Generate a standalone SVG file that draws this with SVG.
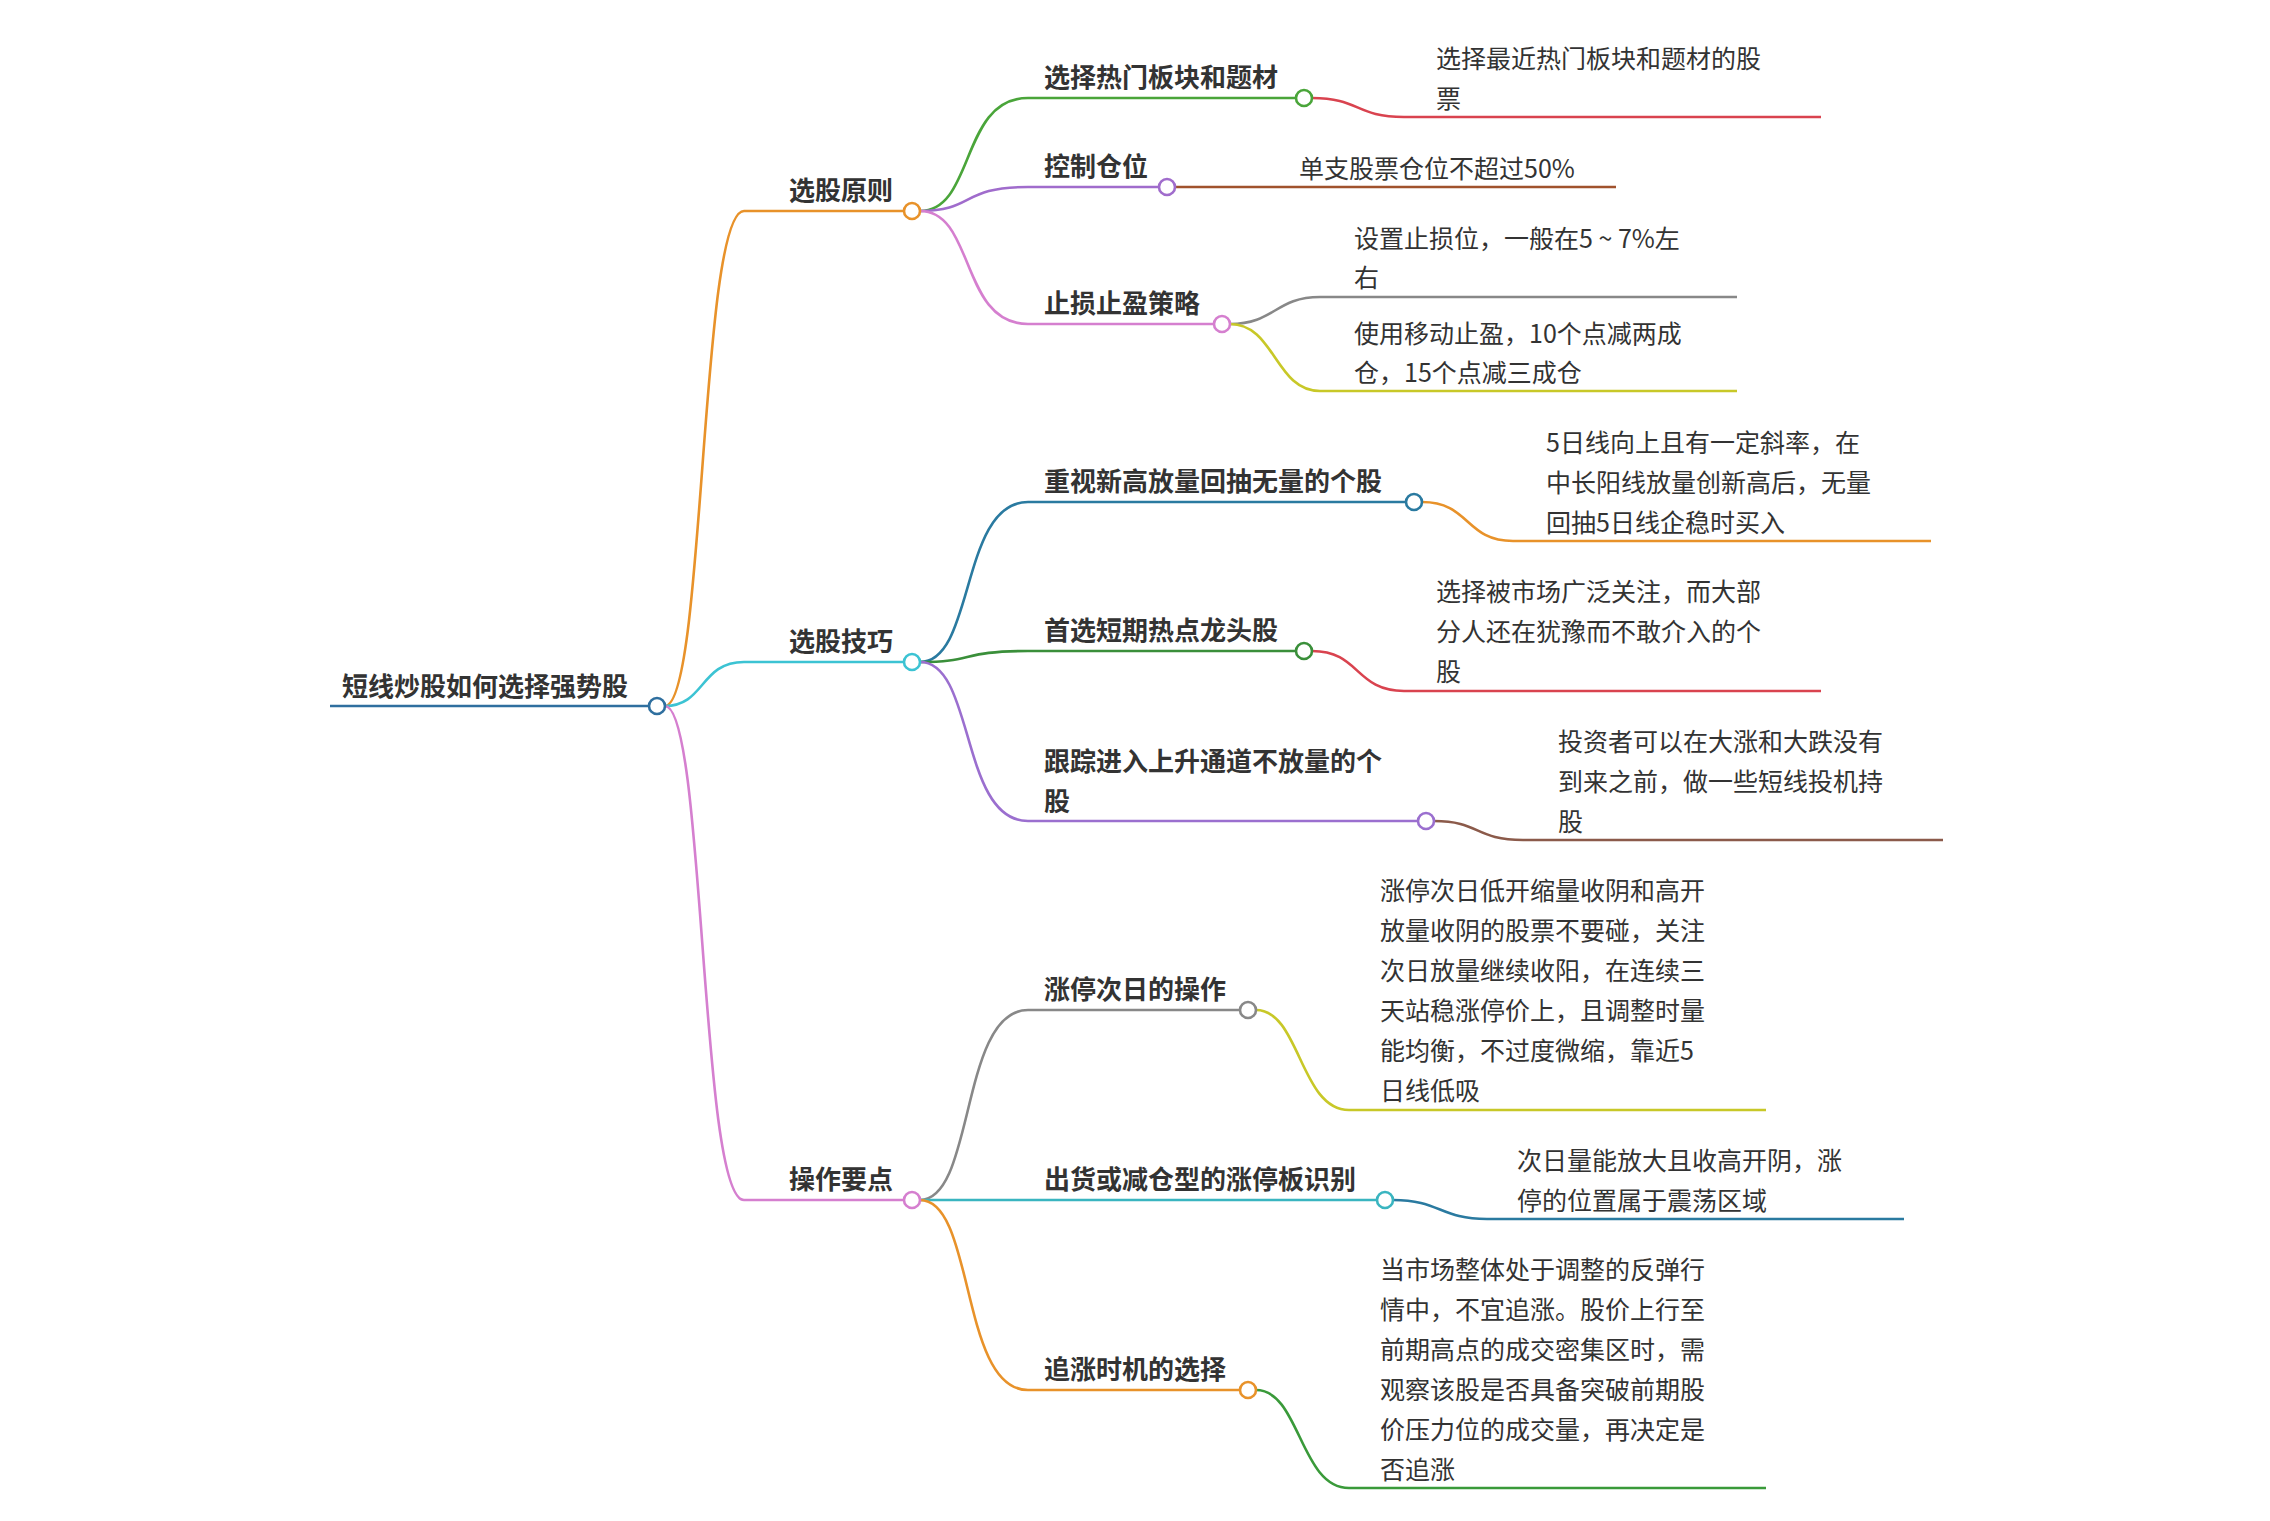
<svg xmlns="http://www.w3.org/2000/svg" width="2270" height="1521" viewBox="0 0 2270 1521">
<style>
.l{fill:none;stroke-width:2.6}
.c{fill:#fff;stroke-width:2.6}
.t{font-family:"Noto Sans CJK SC","Noto Sans",sans-serif;fill:#333}
.b{font-size:26px;font-weight:bold}
.r{font-size:25px}
</style>
<rect width="2270" height="1521" fill="#fff"/>
<g id="connectors">
<path class="l" stroke="#e8922a" d="M665 706 C705 706 700 211 744 211 L912 211"/>
<path class="l" stroke="#3cc3d3" d="M665 706 C705 706 700 662 744 662 L912 662"/>
<path class="l" stroke="#d57fcf" d="M665 706 C705 706 700 1200 744 1200 L912 1200"/>
<path class="l" stroke="#4aa53a" d="M920 211 C975 211 960 98 1028 98 L1304 98"/>
<path class="l" stroke="#a06ccc" d="M920 211 C975 211 960 187 1028 187 L1167 187"/>
<path class="l" stroke="#d57fcf" d="M920 211 C975 211 960 324 1028 324 L1222 324"/>
<path class="l" stroke="#2a7aa0" d="M920 662 C975 662 960 502 1028 502 L1414 502"/>
<path class="l" stroke="#3a8f3a" d="M920 662 C975 662 960 651 1028 651 L1304 651"/>
<path class="l" stroke="#9b6fcf" d="M920 662 C975 662 960 821 1028 821 L1426 821"/>
<path class="l" stroke="#888" d="M920 1200 C975 1200 960 1010 1028 1010 L1248 1010"/>
<path class="l" stroke="#3ab5c0" d="M920 1200 L1385 1200"/>
<path class="l" stroke="#e8922a" d="M920 1200 C975 1200 960 1390 1028 1390 L1248 1390"/>
<path class="l" stroke="#d9434f" d="M1312 98 C1360 98 1355 117 1404 117 L1821 117"/>
<path class="l" stroke="#a0522d" d="M1175 187 L1616 187"/>
<path class="l" stroke="#888" d="M1230 324 C1275 324 1275 297 1320 297 L1737 297"/>
<path class="l" stroke="#c8c828" d="M1230 324 C1275 324 1275 391 1320 391 L1737 391"/>
<path class="l" stroke="#e8922a" d="M1422 502 C1470 502 1465 541 1513 541 L1931 541"/>
<path class="l" stroke="#d9434f" d="M1312 651 C1360 651 1355 691 1404 691 L1821 691"/>
<path class="l" stroke="#8b5a4a" d="M1434 821 C1480 821 1475 840 1523 840 L1943 840"/>
<path class="l" stroke="#c8c828" d="M1256 1010 C1300 1010 1300 1110 1349 1110 L1766 1110"/>
<path class="l" stroke="#2a7aa0" d="M1393 1200 C1440 1200 1440 1219 1487 1219 L1904 1219"/>
<path class="l" stroke="#3a9a3a" d="M1256 1390 C1300 1390 1300 1488 1349 1488 L1766 1488"/>
</g>
<g id="root"><path class="l" stroke="#2f6f9f" d="M330 706 L649 706"/><circle class="c" stroke="#2f6f9f" cx="657" cy="706" r="8"/><text class="t b" x="342" y="696">短线炒股如何选择强势股</text></g>
<g id="n1"><circle class="c" stroke="#e8922a" cx="912" cy="211" r="8"/><text class="t b" x="789" y="200">选股原则</text></g>
<g id="n2"><circle class="c" stroke="#3cc3d3" cx="912" cy="662" r="8"/><text class="t b" x="789" y="651">选股技巧</text></g>
<g id="n3"><circle class="c" stroke="#d57fcf" cx="912" cy="1200" r="8"/><text class="t b" x="789" y="1189">操作要点</text></g>
<g id="n11"><circle class="c" stroke="#4aa53a" cx="1304" cy="98" r="8"/><text class="t b" x="1044" y="87">选择热门板块和题材</text></g>
<g id="n12"><circle class="c" stroke="#a06ccc" cx="1167" cy="187" r="8"/><text class="t b" x="1044" y="176">控制仓位</text></g>
<g id="n13"><circle class="c" stroke="#d57fcf" cx="1222" cy="324" r="8"/><text class="t b" x="1044" y="313">止损止盈策略</text></g>
<g id="n21"><circle class="c" stroke="#2a7aa0" cx="1414" cy="502" r="8"/><text class="t b" x="1044" y="491">重视新高放量回抽无量的个股</text></g>
<g id="n22"><circle class="c" stroke="#3a8f3a" cx="1304" cy="651" r="8"/><text class="t b" x="1044" y="640">首选短期热点龙头股</text></g>
<g id="n23"><circle class="c" stroke="#9b6fcf" cx="1426" cy="821" r="8"/><text class="t b" x="1044" y="771">跟踪进入上升通道不放量的个</text><text class="t b" x="1044" y="811">股</text></g>
<g id="n31"><circle class="c" stroke="#888" cx="1248" cy="1010" r="8"/><text class="t b" x="1044" y="999">涨停次日的操作</text></g>
<g id="n32"><circle class="c" stroke="#3ab5c0" cx="1385" cy="1200" r="8"/><text class="t b" x="1044" y="1189">出货或减仓型的涨停板识别</text></g>
<g id="n33"><circle class="c" stroke="#e8922a" cx="1248" cy="1390" r="8"/><text class="t b" x="1044" y="1379">追涨时机的选择</text></g>
<g id="l111"><text class="t r" x="1436" y="68">选择最近热门板块和题材的股</text><text class="t r" x="1436" y="108">票</text></g>
<g id="l121"><text class="t r" x="1299" y="178">单支股票仓位不超过50%</text></g>
<g id="l131"><text class="t r" x="1354" y="248">设置止损位，一般在5 ~ 7%左</text><text class="t r" x="1354" y="287">右</text></g>
<g id="l132"><text class="t r" x="1354" y="343">使用移动止盈，10个点减两成</text><text class="t r" x="1354" y="382">仓，15个点减三成仓</text></g>
<g id="l211"><text class="t r" x="1546" y="452">5日线向上且有一定斜率，在</text><text class="t r" x="1546" y="492">中长阳线放量创新高后，无量</text><text class="t r" x="1546" y="532">回抽5日线企稳时买入</text></g>
<g id="l221"><text class="t r" x="1436" y="601">选择被市场广泛关注，而大部</text><text class="t r" x="1436" y="641">分人还在犹豫而不敢介入的个</text><text class="t r" x="1436" y="681">股</text></g>
<g id="l231"><text class="t r" x="1558" y="751">投资者可以在大涨和大跌没有</text><text class="t r" x="1558" y="791">到来之前，做一些短线投机持</text><text class="t r" x="1558" y="831">股</text></g>
<g id="l311"><text class="t r" x="1380" y="900">涨停次日低开缩量收阴和高开</text><text class="t r" x="1380" y="940">放量收阴的股票不要碰，关注</text><text class="t r" x="1380" y="980">次日放量继续收阳，在连续三</text><text class="t r" x="1380" y="1020">天站稳涨停价上，且调整时量</text><text class="t r" x="1380" y="1060">能均衡，不过度微缩，靠近5</text><text class="t r" x="1380" y="1100">日线低吸</text></g>
<g id="l321"><text class="t r" x="1517" y="1170">次日量能放大且收高开阴，涨</text><text class="t r" x="1517" y="1210">停的位置属于震荡区域</text></g>
<g id="l331"><text class="t r" x="1380" y="1279">当市场整体处于调整的反弹行</text><text class="t r" x="1380" y="1319">情中，不宜追涨。股价上行至</text><text class="t r" x="1380" y="1359">前期高点的成交密集区时，需</text><text class="t r" x="1380" y="1399">观察该股是否具备突破前期股</text><text class="t r" x="1380" y="1439">价压力位的成交量，再决定是</text><text class="t r" x="1380" y="1479">否追涨</text></g>
</svg>
